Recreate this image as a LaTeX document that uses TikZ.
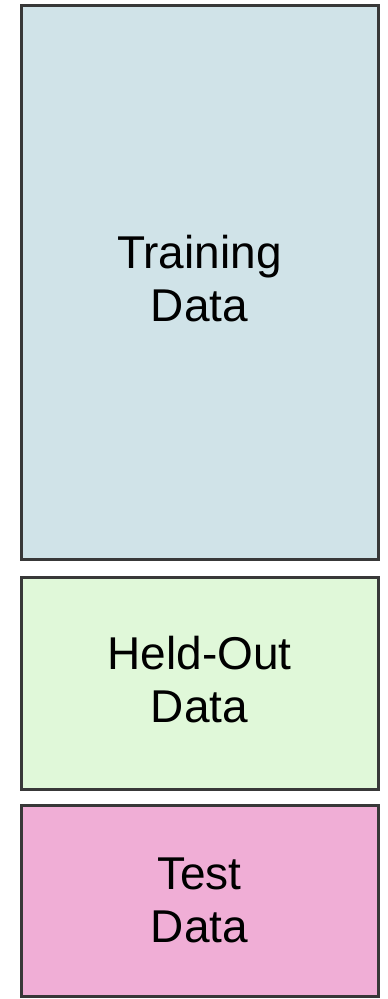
\documentclass[tikz,border=0pt]{standalone}
\usepackage{fontspec}
\setmainfont{Liberation Sans}
\usepackage{tikz}

\definecolor{trainblue}{HTML}{D0E3E8}
\definecolor{heldgreen}{HTML}{E0F8D9}
\definecolor{testpink}{HTML}{F0AED6}
\definecolor{edgegray}{HTML}{383838}

\tikzset{
  databox/.style={draw=edgegray, line width=3pt, minimum width=357pt,
    inner sep=0pt},
  datatext/.style={inner sep=0pt, align=center,
    font=\fontsize{46}{53}\selectfont}
}

\begin{document}
\begin{tikzpicture}[x=1pt,y=-1pt] %[xscale=1.3,yscale=1.3]
\useasboundingbox (0,0) rectangle (388,999);
\node[databox, fill=trainblue, minimum height=554pt] (train) at (199.5,282.5) {};
\node[databox, fill=heldgreen, minimum height=211.5pt] (held) at (199.5,683.25) {};
\node[databox, fill=testpink, minimum height=191.5pt] (test) at (199.5,900.75) {};
% labels
\node[datatext, yshift=4pt] (traintext) at (train.center) {Training\\Data};
\node[datatext, yshift=4pt] (heldtext) at (held.center) {Held-Out\\Data};
\node[datatext] (testtext) at (test.center) {Test\\Data};
\end{tikzpicture}
\end{document}
